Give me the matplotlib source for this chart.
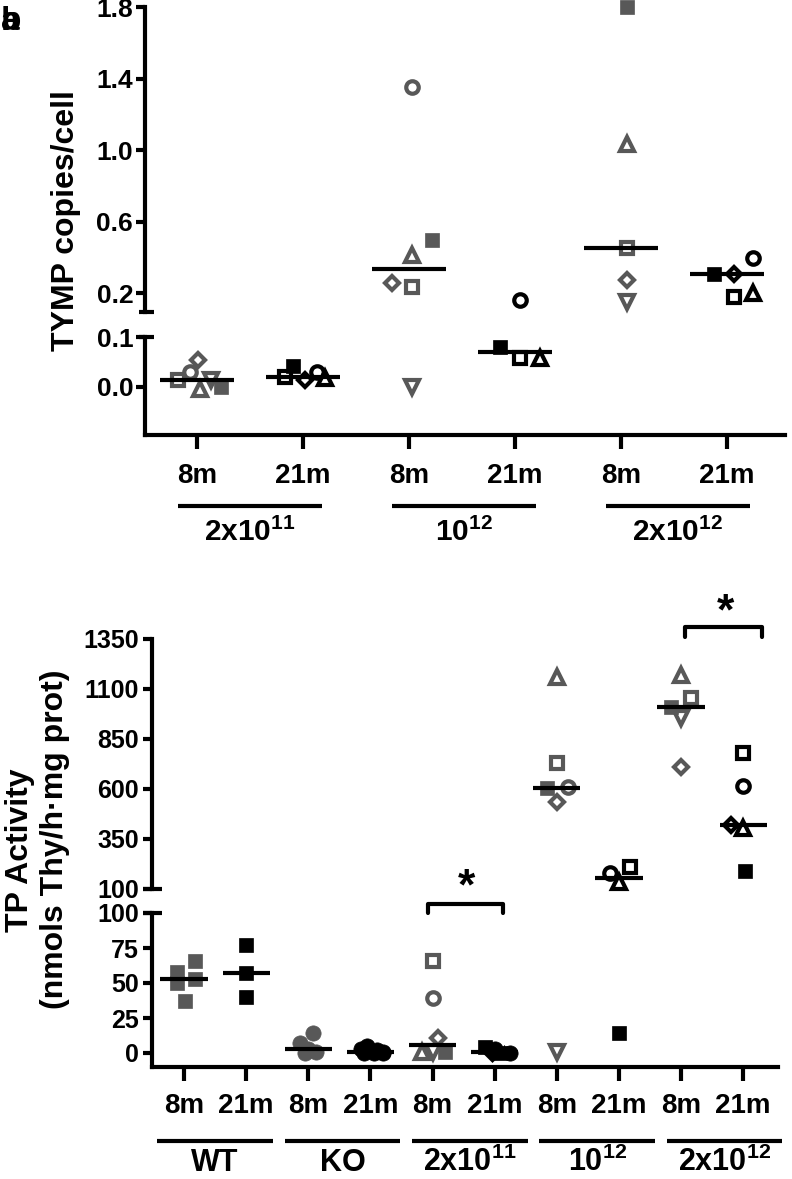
import numpy as np
import matplotlib.pyplot as plt
from matplotlib import transforms

plt.rcParams['font.family'] = ['Liberation Sans', 'DejaVu Sans']
plt.rcParams['font.weight'] = 'bold'
plt.rcParams['mathtext.fontset'] = 'custom'
plt.rcParams['mathtext.rm'] = 'Liberation Sans:bold'
plt.rcParams['mathtext.bf'] = 'Liberation Sans:bold'

GRAY = '#585858'

# ---- top panel: TYMP copies/cell
tymp_ticks = ['8m', '21m', '8m', '21m', '8m', '21m']
tymp_groups = [r'2x10$^{11}$', r'10$^{12}$', r'2x10$^{12}$']
tymp_vals = [
    [0.014, 0.030, 0.054, -0.005, 0.014, 0.000],
    [0.020, 0.041, 0.013, 0.030, 0.018],
    [1.354, 0.498, 0.414, 0.257, 0.236, 0.000],
    [0.163, 0.081, 0.058, 0.058],
    [1.800, 1.035, 0.453, 0.275, 0.152],
    [0.310, 0.310, 0.397, 0.180, 0.200],
]
tymp_marks = [
    ['s', 'o', 'D', '^', 'v', 's'],
    ['s', 's', 'D', 'o', '^'],
    ['o', 's', '^', 'D', 's', 'v'],
    ['o', 's', 's', '^'],
    ['s', '^', 's', 'D', 'v'],
    ['s', 'D', 'o', 's', '^'],
]
tymp_filled = [
    [0, 0, 0, 0, 0, 1],
    [0, 1, 0, 0, 0],
    [0, 1, 0, 0, 0, 0],
    [0, 1, 0, 0],
    [1, 0, 0, 0, 0],
    [1, 0, 0, 0, 0],
]
tymp_jit = [
    [-0.18, -0.07, 0.01, 0.03, 0.13, 0.23],
    [-0.17, -0.09, 0.02, 0.13, 0.21],
    [0.03, 0.22, 0.03, -0.16, 0.03, 0.03],
    [0.05, -0.14, 0.05, 0.24],
    [0.06, 0.06, 0.06, 0.06, 0.06],
    [-0.12, 0.07, 0.25, 0.07, 0.25],
]

# ---- bottom panel: TP activity
tp_ticks = ['8m', '21m'] * 5
tp_groups = ['WT', 'KO', r'2x10$^{11}$', r'10$^{12}$', r'2x10$^{12}$']
tp_vals = [
    [58, 66, 53, 50, 37],
    [77, 57, 40],
    [14, 7, 3, 1, 0],
    [5, 3, 2, 1, 0, 0, 0],
    [66, 39, 11, 1, 1, 1],
    [4, 3, 1, 1, 0, 0],
    [1160, 730, 605, 610, 535, 1],
    [180, 210, 135, 14],
    [1170, 1055, 1010, 955, 710],
    [780, 615, 420, 405, 190],
]
tp_marks = [
    ['s'] * 5,
    ['s'] * 3,
    ['o'] * 5,
    ['o'] * 7,
    ['s', 'o', 'D', '^', 'v', 's'],
    ['s', 'o', '^', 'D', 's', 'o'],
    ['^', 's', 's', 'o', 'D', 'v'],
    ['o', 's', '^', 's'],
    ['^', 's', 's', 'v', 'D'],
    ['s', 'o', 'D', '^', 's'],
]
tp_filled = [
    [1] * 5,
    [1] * 3,
    [1] * 5,
    [1] * 7,
    [0, 0, 0, 0, 0, 1],
    [1, 1, 1, 1, 1, 1],
    [0, 0, 1, 0, 0, 0],
    [0, 0, 0, 1],
    [0, 0, 1, 0, 0],
    [0, 0, 0, 0, 1],
]
tp_jit = [
    [-0.12, 0.18, 0.18, -0.12, 0.02],
    [0, 0, 0],
    [0.08, -0.13, 0.0, 0.13, -0.05],
    [-0.05, -0.15, 0.1, 0.2, -0.1, 0.05, 0.2],
    [0, 0, 0.08, -0.17, 0, 0.2],
    [-0.15, 0.0, 0.15, -0.05, 0.1, 0.25],
    [0, 0, -0.16, 0.18, 0, 0],
    [-0.15, 0.18, 0, 0],
    [0, 0.16, -0.16, 0, 0],
    [0, 0, -0.2, 0, 0.03],
]

W, H = 792, 1179
fig = plt.figure(figsize=(W / 100, H / 100), dpi=100)


def fax(x0, x1, ytop, ybot):
    return fig.add_axes([x0 / W, 1 - ybot / H, (x1 - x0) / W, (ybot - ytop) / H])


def style(ax, bottom):
    for s in ['top', 'right']:
        ax.spines[s].set_visible(False)
    ax.spines['bottom'].set_visible(bottom)
    for s in ['left', 'bottom']:
        ax.spines[s].set_linewidth(3)
    ax.patch.set_alpha(0)
    if not bottom:
        ax.set_xticks([])


def draw(ax_hi, ax_lo, brk, vals, marks, filled, jit, half):
    for i, vs in enumerate(vals):
        pos = i + 1
        col = GRAY if i % 2 == 0 else 'black'
        for v, m, f, j in zip(vs, marks[i], filled[i], jit[i]):
            ax = ax_hi if v > brk else ax_lo
            if f:
                ms = 11 if m == 'o' else 10
                ax.plot(pos + j, v, marker=m, ms=ms, mfc=col, mec=col, mew=0.5,
                        ls='none', clip_on=False, zorder=3)
            else:
                ms = {'D': 7.5, '^': 10, 'v': 10}.get(m, 9)
                ax.plot(pos + j, v, marker=m, ms=ms, mfc='none', mec=col, mew=3,
                        ls='none', clip_on=False, zorder=3)
        med = np.median(vs)
        ax = ax_hi if med > brk else ax_lo
        ax.plot([pos - half, pos + half], [med, med], color='black', lw=3,
                solid_capstyle='butt', zorder=4, clip_on=False)


def cap(ax, y, a, b):
    tr = transforms.blended_transform_factory(ax.transAxes, ax.transData)
    ax.plot([a, b], [y, y], color='black', lw=3, transform=tr, clip_on=False,
            solid_capstyle='butt')


# ================= top panel =================
a1 = fax(145, 785, 7.3, 312)
a2 = fax(145, 785, 337.3, 435)
for ax in (a1, a2):
    ax.set_xlim(0.51, 6.55)
a1.set_ylim(0.095, 1.8)
a2.set_ylim(-0.098, 0.1)
style(a1, False)
style(a2, True)
a1.set_yticks([0.2, 0.6, 1.0, 1.4, 1.8])
a1.set_yticklabels(['0.2', '0.6', '1.0', '1.4', '1.8'])
a2.set_yticks([0.0, 0.1])
a2.set_yticklabels(['0.0', '0.1'])
for ax in (a1, a2):
    ax.tick_params(axis='y', length=6.5, width=3, labelsize=19, pad=2)
a2.set_xticks(range(1, 7))
a2.set_xticklabels(tymp_ticks)
a2.tick_params(axis='x', length=10, width=3, labelsize=20, pad=10)
cap(a1, 0.095, -0.0094, 0.014)
cap(a2, 0.1, -0.0094, 0.014)
draw(a1, a2, 0.095, tymp_vals, tymp_marks, tymp_filled, tymp_jit, 0.35)

tr = transforms.blended_transform_factory(a2.transData, fig.transFigure)
for k, g in enumerate(tymp_groups):
    c = 1.5 + 2.02 * k
    a2.plot([c - 0.68, c + 0.68], [1 - 506 / H] * 2, color='black', lw=3,
            transform=tr, clip_on=False, solid_capstyle='butt')
    a2.text(c, 1 - 541 / H, g, transform=tr, ha='center', va='baseline',
            fontsize=21.5, fontweight='bold')

fig.text(66 / W, 1 - 221 / H, 'TYMP copies/cell', rotation=90, ha='center',
         va='center', fontsize=23, fontweight='bold')

# ================= bottom panel =================
b1 = fax(152, 778, 639, 889)
b2 = fax(152, 778, 913, 1067)
for ax in (b1, b2):
    ax.set_xlim(0.485, 10.56)
b1.set_ylim(100, 1350)
b2.set_ylim(-10, 100)
style(b1, False)
style(b2, True)
b1.set_yticks([100, 350, 600, 850, 1100, 1350])
b2.set_yticks([0, 25, 50, 75, 100])
for ax in (b1, b2):
    ax.tick_params(axis='y', length=6.5, width=3, labelsize=18, pad=3)
b2.set_xticks(range(1, 11))
b2.set_xticklabels(tp_ticks)
b2.tick_params(axis='x', length=10, width=3, labelsize=20, pad=9)
cap(b1, 100, -0.0144, 0.016)
cap(b2, 100, -0.0144, 0.016)
draw(b1, b2, 100, tp_vals, tp_marks, tp_filled, tp_jit, 0.38)

tr = transforms.blended_transform_factory(b2.transData, fig.transFigure)
for k, g in enumerate(tp_groups):
    c = 1.5 + 2.05 * k
    b2.plot([c - 0.93, c + 0.93], [1 - 1141 / H] * 2, color='black', lw=3,
            transform=tr, clip_on=False, solid_capstyle='butt')
    b2.text(c, 1 - 1171 / H, g, transform=tr, ha='center', va='baseline',
            fontsize=22, fontweight='bold')

# significance brackets
b2.plot([4.92, 4.92, 6.13, 6.13], [100, 106.4, 106.4, 100], color='black', lw=3,
        clip_on=False, solid_capstyle='round', solid_joinstyle='round')
b2.text(5.54, 118, '*', ha='center', va='center', fontsize=32, fontweight='bold')
b1.plot([9.06, 9.06, 10.3, 10.3], [1360, 1410, 1410, 1360], color='black', lw=3,
        clip_on=False, solid_capstyle='round', solid_joinstyle='round')
b1.text(9.71, 1480, '*', ha='center', va='center', fontsize=32, fontweight='bold')

fig.text(20 / W, 1 - 850 / H, 'TP Activity', rotation=90, ha='center',
         va='center', fontsize=23, fontweight='bold')
fig.text(55 / W, 1 - 839 / H, '(nmols Thy/h\u00b7mg prot)', rotation=90,
         ha='center', va='center', fontsize=23, fontweight='bold')

# panel letter (overlapping a/b)
fig.text(1 / W, 1 - 30 / H, 'b', fontsize=24, fontweight='bold', va='baseline')
fig.text(1 / W, 1 - 30 / H, 'a', fontsize=24, fontweight='bold', va='baseline')

fig.savefig('out.png', dpi=100)
